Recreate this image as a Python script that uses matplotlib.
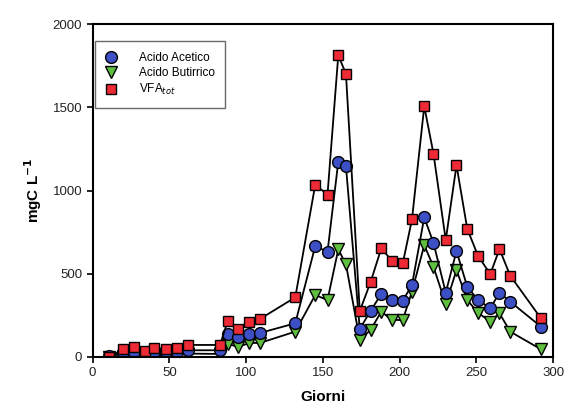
import matplotlib
matplotlib.use("Agg")
import matplotlib.pyplot as plt

plt.rcParams['font.family'] = ['Liberation Sans', 'DejaVu Sans']

giorni = [11, 20, 27, 34, 40, 48, 55, 62, 83, 88, 95, 102, 109, 132, 145, 153,
          160, 165, 174, 181, 188, 195, 202, 208, 216, 222, 230, 237, 244, 251,
          259, 265, 272, 292]
acetico = [5, 25, 30, 20, 30, 28, 30, 40, 40, 138, 120, 138, 144, 202, 666, 632,
           1172, 1146, 168, 276, 378, 342, 338, 432, 838, 686, 386, 636, 422, 342,
           292, 386, 332, 182]
butirrico = [0, 8, 12, 5, 10, 8, 10, 20, 18, 78, 60, 84, 84, 152, 372, 342,
             646, 558, 102, 162, 272, 222, 222, 392, 672, 542, 318, 522, 342, 266,
             212, 262, 152, 46]
vfa_tot = [0, 48, 60, 36, 54, 48, 54, 72, 72, 216, 168, 210, 228, 358, 1034, 976,
           1812, 1702, 276, 448, 652, 578, 562, 826, 1506, 1222, 702, 1152, 770, 608,
           498, 648, 488, 232]

fig = plt.figure(figsize=(5.68, 4.16), dpi=100)
ax = fig.add_axes([0.163, 0.142, 0.811, 0.800])

style = dict(color='black', linewidth=1.3, markeredgecolor='black',
             markeredgewidth=1.0)
ax.plot(giorni, butirrico, marker='v', markerfacecolor='#5fbf3f',
        markersize=8.5, label='Acido Butirrico', **style)
ax.plot(giorni, acetico, marker='o', markerfacecolor='#3c4fc4',
        markersize=8.5, label='Acido Acetico', **style)
ax.plot(giorni, vfa_tot, marker='s', markerfacecolor='#ee2a35',
        markersize=7.5, label='VFA$_{tot}$', **style)

ax.set_xlim(0, 300)
ax.set_ylim(0, 2000)
ax.set_xticks([0, 50, 100, 150, 200, 250, 300])
ax.set_yticks([0, 500, 1000, 1500, 2000])
ax.tick_params(direction='out', length=4, width=1.2, labelsize=9.5,
               labelcolor='#222222')
for s in ax.spines.values():
    s.set_linewidth(1.5)

ax.set_xlabel('Giorni', fontweight='bold', fontsize=11, labelpad=8)
ax.set_ylabel(r'mgC L$^{\mathbf{-1}}$', fontweight='bold', fontsize=11, labelpad=6)

handles, labels = ax.get_legend_handles_labels()
order = [1, 0, 2]
leg = ax.legend([handles[i] for i in order], [labels[i] for i in order],
                loc='upper left', bbox_to_anchor=(0.0, 0.955), fontsize=8.5,
                frameon=True, fancybox=False, edgecolor='#444444',
                handlelength=1.0, borderpad=0.9, labelspacing=0.25,
                handletextpad=1.8, borderaxespad=0.2)
for h in leg.get_lines():
    h.set_linestyle('none')
leg.get_frame().set_linewidth(1.0)

fig.savefig('out.png', dpi=100)
